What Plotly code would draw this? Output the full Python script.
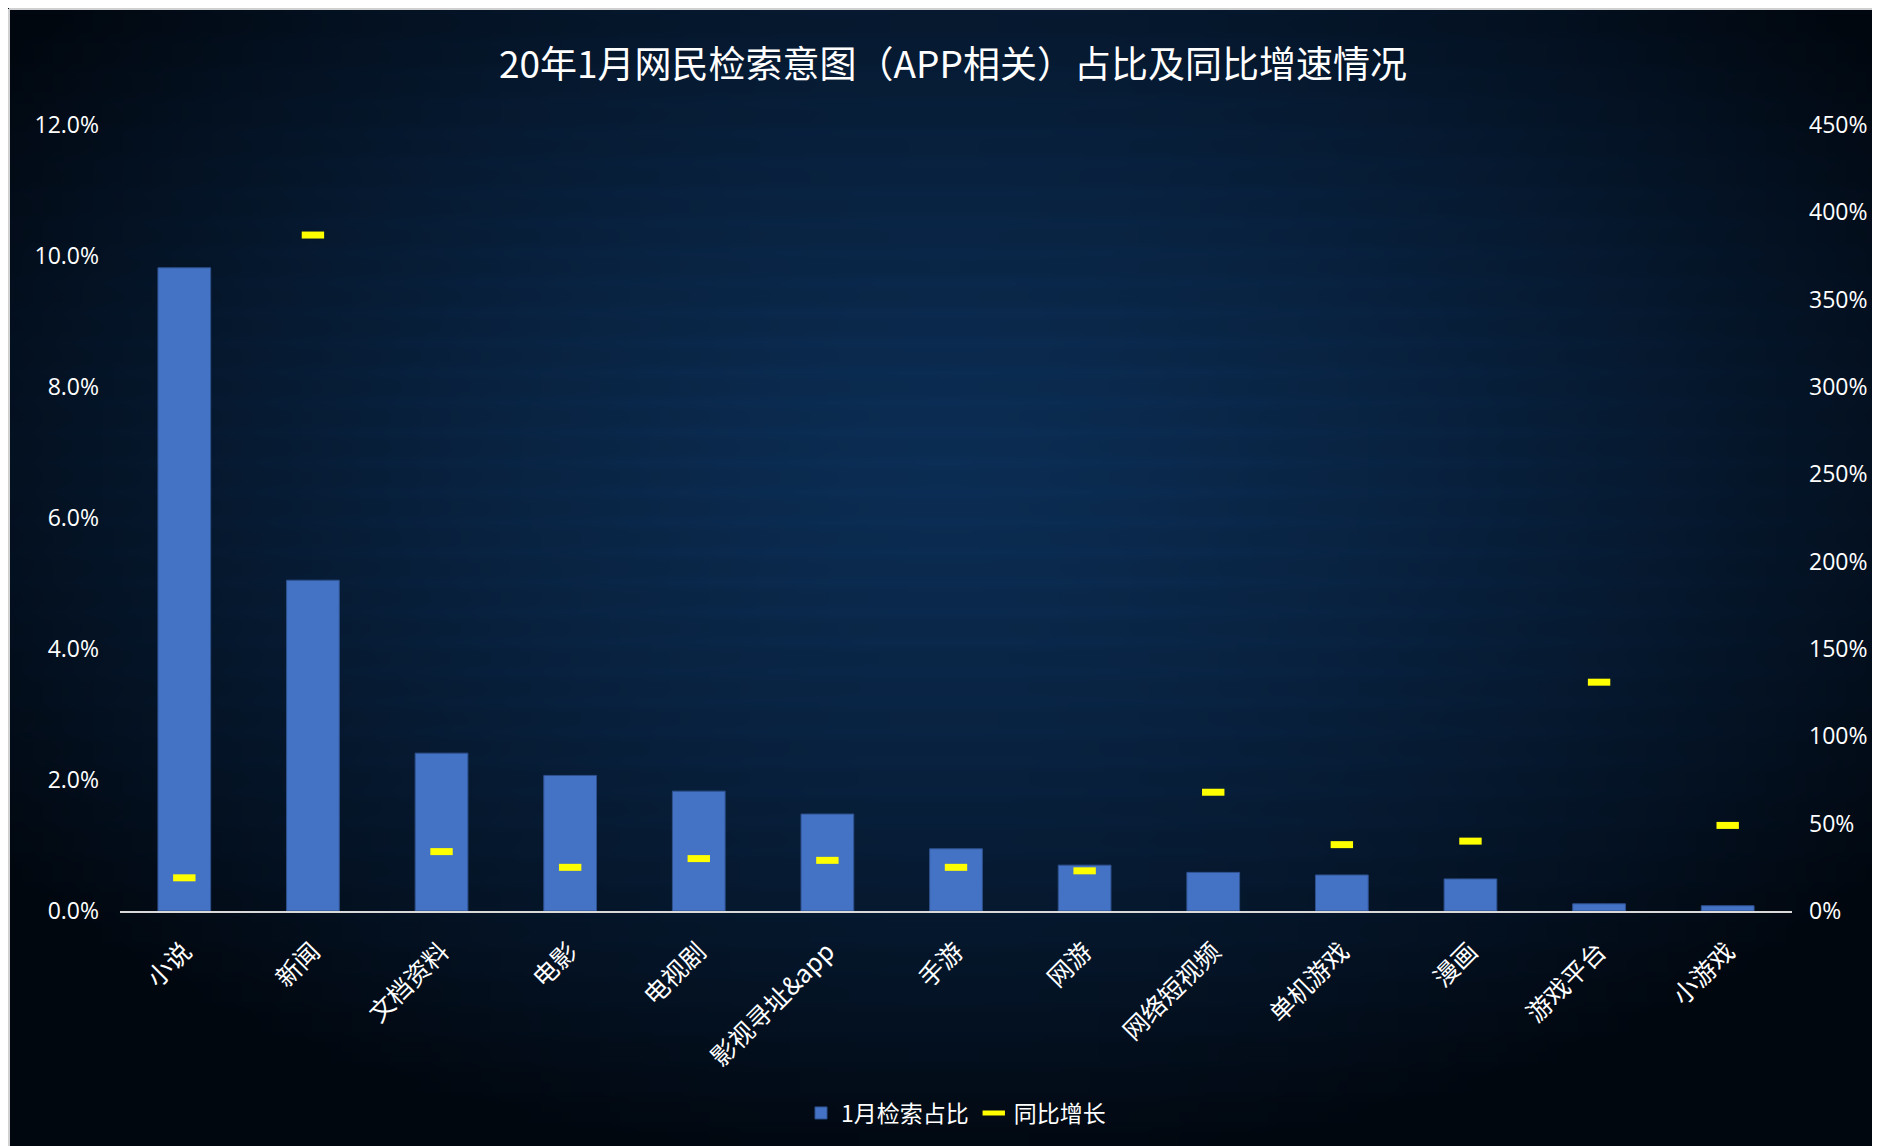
import base64
import struct
import zlib

import plotly.graph_objects as go

categories = ["小说", "新闻", "文档资料", "电影", "电视剧", "影视寻址&app", "手游", "网游",
              "网络短视频", "单机游戏", "漫画", "游戏平台", "小游戏"]
share_jan = [9.82, 5.05, 2.41, 2.07, 1.83, 1.48, 0.95, 0.70, 0.59, 0.55, 0.49, 0.11, 0.08]
yoy_growth = [19, 387, 34, 25, 30, 29, 25, 23, 68, 38, 40, 131, 49]
left_ticks = [0, 2, 4, 6, 8, 10, 12]
right_ticks = [0, 50, 100, 150, 200, 250, 300, 350, 400, 450]

FONT = "Open Sans, Noto Sans CJK SC, sans-serif"
CJK = "Noto Sans CJK SC, sans-serif"

# ---- background gradient image (style only) ----
def make_bg(w=188, h=114):
    center = (11, 44, 82)
    edge = (1, 7, 15)
    rows = []
    for j in range(h):
        row = bytearray([0])
        for i in range(w):
            dx = (i / (w - 1) - 0.5) / 0.62
            dy = (j / (h - 1) - 0.40) / 0.62
            d = min(1.0, (dx * dx + dy * dy) ** 0.5)
            t = d ** 1.4
            stripe = 0.06 if (j % 3 == 0) else 0.0
            px = []
            for k in range(3):
                v = center[k] + (edge[k] - center[k]) * t
                v = v * (1 + stripe)
                px.append(max(0, min(255, int(round(v)))))
            row.extend(px)
        rows.append(bytes(row))
    raw = b"".join(rows)

    def chunk(tag, data):
        c = struct.pack(">I", len(data)) + tag + data
        return c + struct.pack(">I", zlib.crc32(tag + data) & 0xffffffff)

    png = b"\x89PNG\r\n\x1a\n"
    png += chunk(b"IHDR", struct.pack(">IIBBBBB", w, h, 8, 2, 0, 0, 0))
    png += chunk(b"IDAT", zlib.compress(raw, 9))
    png += chunk(b"IEND", b"")
    return "data:image/png;base64," + base64.b64encode(png).decode()


W, H = 1872, 1138
ML, MR, MT, MB = 112, 88, 117, 235
PW, PH = W - ML - MR, H - MT - MB

fig = go.Figure()
fig.add_trace(go.Bar(
    x=categories, y=share_jan, name="1月检索占比",
    marker=dict(color="#4472C4", line=dict(color="#2F528F", width=1)),
    width=0.41, yaxis="y",
))
fig.add_trace(go.Scatter(
    x=categories, y=yoy_growth, name="同比增长", mode="markers",
    marker=dict(symbol="line-ew-open", size=16, color="#FFFF00",
                line=dict(color="#FFFF00", width=7)),
    yaxis="y2",
))

shapes = [
    dict(type="line", xref="paper", yref="paper",
         x0=-(ML - 1) / PW, x1=1 + MR / PW, y0=1 + (MT - 1) / PH, y1=1 + (MT - 1) / PH,
         line=dict(color="#d0d0d0", width=2), layer="above"),
    dict(type="line", xref="paper", yref="paper",
         x0=-(ML - 1) / PW, x1=-(ML - 1) / PW, y0=1 + (MT - 1) / PH, y1=-MB / PH,
         line=dict(color="#d0d0d0", width=2), layer="above"),
]

fig.update_layout(
    width=W, height=H,
    paper_bgcolor="#020a16",
    plot_bgcolor="rgba(0,0,0,0)",
    margin=dict(l=ML, r=MR, t=MT, b=MB),
    images=[dict(source=make_bg(), xref="paper", yref="paper",
                 x=-ML / PW, y=1 + MT / PH, sizex=W / PW, sizey=H / PH,
                 xanchor="left", yanchor="top", sizing="stretch", layer="below")],
    title=dict(text="20年1月网民检索意图（APP相关）占比及同比增速情况",
               x=945 / W, xanchor="center", y=1 - 57 / H, yanchor="middle",
               font=dict(family=CJK, size=37, color="#ffffff")),
    xaxis=dict(tickangle=-45, tickfont=dict(family=CJK, size=25, color="#ffffff"),
               showline=True, linecolor="#d9d9d9", linewidth=2, showgrid=False,
               ticks="", range=[-0.5, 12.5], ticklabelstandoff=14),
    yaxis=dict(range=[0, 12], tickvals=left_ticks,
               ticktext=[f"{v:.1f}%" for v in left_ticks],
               tickfont=dict(family=FONT, size=23, color="#ffffff"),
               showgrid=False, zeroline=False, showline=False, ticklabelstandoff=20),
    yaxis2=dict(range=[0, 450], tickvals=right_ticks,
                ticktext=[f"{v}%" for v in right_ticks], overlaying="y",
                side="right", tickfont=dict(family=FONT, size=23, color="#ffffff"),
                showgrid=False, zeroline=False, showline=False, ticklabelstandoff=16),
    legend=dict(orientation="h", x=0.5, xanchor="center", y=-0.257, yanchor="middle",
                font=dict(family=CJK, size=23, color="#ffffff"),
                bgcolor="rgba(0,0,0,0)", itemwidth=30),
    shapes=shapes,
    showlegend=True,
)

fig.write_html("out.html")
